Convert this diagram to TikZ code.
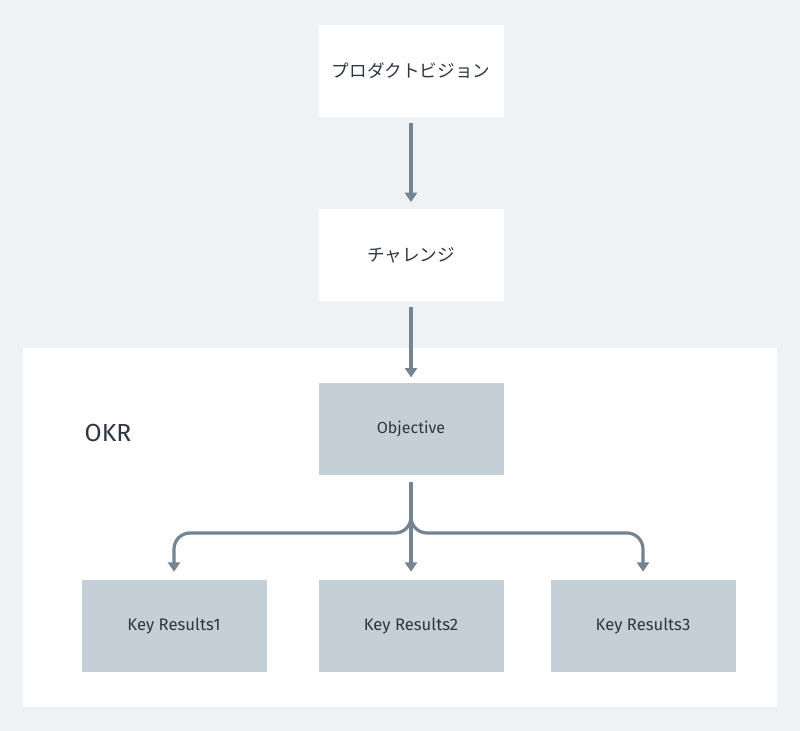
\documentclass[tikz,border=0pt]{standalone}
\usepackage{fontspec}
\setmainfont{Fira Sans}
\newfontfamily\jp{Noto Sans CJK JP}
\usetikzlibrary{arrows.meta}
\definecolor{bg}{HTML}{EEF2F5}
\definecolor{dark}{HTML}{C5CFD8}
\definecolor{arr}{HTML}{748493}
\definecolor{txt}{HTML}{2E3640}
\begin{document}
\begin{tikzpicture}[x=0.75pt,y=-0.75pt,
 box/.style={draw=none,minimum width=138.75pt,minimum height=69pt,inner sep=0pt,text=txt,font=\fontsize{12.5}{15}\selectfont},
 wbox/.style={box,fill=white,font=\fontsize{13.2}{16}\selectfont\jp},
 gbox/.style={box,fill=dark},
 ar/.style={draw=arr,line width=2.4pt,-{Triangle[length=7pt,width=9pt]}},
 ln/.style={draw=arr,line width=2.4pt,rounded corners=12pt}]
\fill[bg] (0,0) rectangle (800,731);
\useasboundingbox (0,0) rectangle (800,731);
\node[fill=white,minimum width=565.5pt,minimum height=269.25pt,inner sep=0pt] (okr) at (400,527.5) {};
\node[anchor=west,text=txt,font=\fontsize{18.5}{22}\selectfont] (okrl) at (80,433) {OKR};
\node[wbox] (pv) at (411,71) {プロダクトビジョン};
\node[wbox] (ch) at (411,255) {チャレンジ};
\node[gbox,font=\fontsize{12}{15}\selectfont] (ob) at (411,429) {Objective};
\node[gbox] (k1) at (174,626) {Key Results1};
\node[gbox] (k2) at (411,626) {Key Results2};
\node[gbox] (k3) at (643,626) {Key Results3};
\draw[ar] ([yshift=-4pt]pv.south) -- ([yshift=5pt]ch.north);
\draw[ar] ([yshift=-4pt]ch.south) -- ([yshift=4pt]ob.north);
\draw[ar] ([yshift=-5pt]ob.south) -- ([yshift=6pt]k2.north);
\coordinate (j) at (411,533);
\draw[ln,-{Triangle[length=7pt,width=9pt]}] (411,505) -- (j) -- (k1.north |- j) -- ([yshift=6pt]k1.north);
\draw[ln,-{Triangle[length=7pt,width=9pt]}] (411,505) -- (j) -- (k3.north |- j) -- ([yshift=6pt]k3.north);
\end{tikzpicture}
\end{document}
